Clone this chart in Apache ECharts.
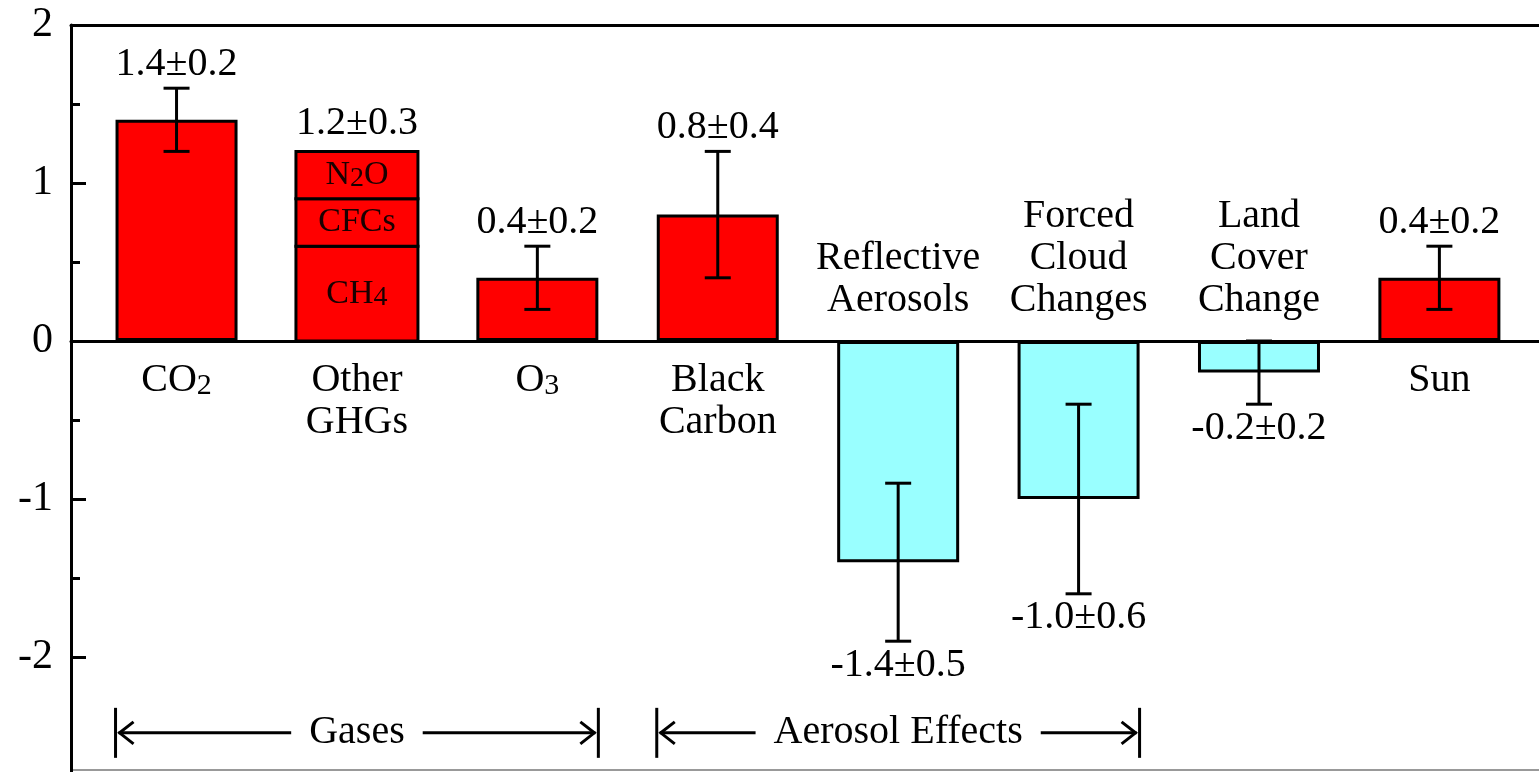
<!DOCTYPE html>
<html>
<head>
<meta charset="utf-8">
<script src="https://cdn.jsdelivr.net/npm/echarts@6/dist/echarts.min.js"></script>
<style>
html, body { margin: 0; padding: 0; background: #fff; }
#main { width: 1539px; height: 772px; }
</style>
</head>
<body>
<div id="main"></div>
<script>
// forcings, W/m2
var categories = ['CO2', 'Other\nGHGs', 'O3', 'Black\nCarbon', 'Reflective\nAerosols', 'Forced\nCloud\nChanges', 'Land\nCover\nChange', 'Sun'];
var forcing = [1.4, 1.2, 0.4, 0.8, -1.4, -1.0, -0.2, 0.4];
var uncertainty = [0.2, 0.3, 0.2, 0.4, 0.5, 0.6, 0.2, 0.2];
var hasErrorBar = [true, false, true, true, true, true, true, true];
// split of the "Other GHGs" bar
var ghgParts = ['CH4', 'CFCs', 'N2O'];
var ghgValues = [0.6, 0.3, 0.3];
// brackets under the bars
var groupNames = ['Gases', 'Aerosol Effects'];
var groupFrom = [0, 3];
var groupTo = [2, 5];
// y ticks
var majorTicks = [-2, -1, 0, 1, 2];
var minorTicks = [-1.5, -0.5, 0.5, 1.5];

var SERIF = '"Liberation Serif", "Times New Roman", serif';
var FONT = '40px ' + SERIF;
var BAR_W = 122;
var BRACKET_LEVEL = -2.48;
var red = '#ff0000', cyan = '#99ffff';
var GHG_INDEX = 1;

// "CO2" -> rich text with subscript digits
function richName(name) {
  return name.split('\n').map(function (line) {
    return line.replace(/([^\d]+)|(\d+)/g, function (m, a, d) {
      return a ? '{t|' + a + '}' : '{s|' + d + '}';
    });
  }).join('\n');
}

var measureCtx = document.createElement('canvas').getContext('2d');
measureCtx.font = FONT;

var lineStyle = { stroke: '#000', lineWidth: 3 };

var mainData = forcing.map(function (v, i) {
  return i === GHG_INDEX ? [i, '-'] : [i, v];
});

var ghgData = [];
var acc = 0;
ghgValues.forEach(function (v) {
  ghgData.push([GHG_INDEX, acc, acc + v]);
  acc += v;
});

var myChart = echarts.init(document.getElementById('main'));
myChart.setOption({
  animation: false,
  backgroundColor: '#fff',
  grid: { left: 71, top: 25, right: -20, bottom: -43, outerBoundsMode: 'none', containLabel: false },
  xAxis: [
    {
      type: 'value', min: -0.585, max: 7.663,
      axisLine: { onZero: true, lineStyle: { color: '#000', width: 3 } },
      axisTick: { show: false }, axisLabel: { show: false }, splitLine: { show: false }
    },
    {
      type: 'value', min: -0.585, max: 7.663, position: 'top',
      axisLine: { onZero: false, lineStyle: { color: '#000', width: 3 } },
      axisTick: { show: false }, axisLabel: { show: false }, splitLine: { show: false }
    }
  ],
  yAxis: [
    {
      type: 'value', min: -3, max: 2, interval: 1,
      axisLine: { show: true, onZero: false, lineStyle: { color: '#000', width: 3 } },
      axisTick: { show: true, inside: true, length: 15, customValues: majorTicks, lineStyle: { color: '#000', width: 3 } },
      axisLabel: { color: '#000', fontFamily: SERIF, fontSize: 42, margin: 18, customValues: majorTicks },
      splitLine: { show: false }
    },
    {
      type: 'value', min: -3, max: 2, interval: 1, position: 'left', offset: 0,
      axisLine: { show: false, onZero: false },
      axisTick: { show: true, inside: true, length: 9, customValues: minorTicks, lineStyle: { color: '#000', width: 3 } },
      axisLabel: { show: false },
      splitLine: { show: false }
    }
  ],
  graphic: [
    { type: 'line', shape: { x1: 71, y1: 770, x2: 1539, y2: 770 }, style: { stroke: '#999', lineWidth: 2 } }
  ],
  series: [
    {
      type: 'bar',
      name: 'forcing',
      barWidth: BAR_W,
      data: mainData,
      itemStyle: {
        borderColor: '#000', borderWidth: 3,
        color: function (p) { return p.value[1] >= 0 ? red : cyan; }
      },
      z: 2
    },
    {
      // stacked parts of the other greenhouse gases
      type: 'custom',
      name: 'ghg',
      data: ghgData,
      encode: { x: 0, y: [1, 2] },
      z: 3,
      renderItem: function (params, api) {
        var k = params.dataIndex;
        var p0 = api.coord([api.value(0), api.value(1)]);
        var p1 = api.coord([api.value(0), api.value(2)]);
        return {
          type: 'group',
          children: [
            {
              type: 'rect',
              shape: { x: p0[0] - BAR_W / 2, y: p1[1], width: BAR_W, height: p0[1] - p1[1] },
              style: { fill: red, stroke: '#000', lineWidth: 3 }
            },
            {
              type: 'text',
              style: {
                text: richName(ghgParts[k]),
                x: p0[0], y: (p0[1] + p1[1]) / 2,
                align: 'center', verticalAlign: 'middle',
                font: '34px ' + SERIF, fill: '#1a0000',
                rich: {
                  t: { fontFamily: SERIF, fontSize: 34, lineHeight: 36, fill: '#1a0000' },
                  s: { fontFamily: SERIF, fontSize: 28, lineHeight: 12, fill: '#1a0000', verticalAlign: 'bottom' }
                }
              }
            }
          ]
        };
      }
    },
    {
      // error bars and value labels
      type: 'custom',
      name: 'error',
      data: forcing.map(function (v, i) { return [i, v - uncertainty[i], v + uncertainty[i]]; }),
      encode: { x: 0, y: [1, 2] },
      z: 5,
      renderItem: function (params, api) {
        var i = params.dataIndex;
        var v = forcing[i], u = uncertainty[i];
        var x = api.coord([i, 0])[0];
        var top = api.coord([i, v + u])[1];
        var bot = api.coord([i, v - u])[1];
        var children = [];
        if (hasErrorBar[i]) {
          children.push({ type: 'line', shape: { x1: x, y1: top, x2: x, y2: bot }, style: lineStyle });
          children.push({ type: 'line', shape: { x1: x - 13, y1: top, x2: x + 13, y2: top }, style: lineStyle });
          children.push({ type: 'line', shape: { x1: x - 13, y1: bot, x2: x + 13, y2: bot }, style: lineStyle });
        }
        var end = hasErrorBar[i] ? (v >= 0 ? top : bot) : api.coord([i, v])[1];
        var gap = hasErrorBar[i] ? 4 : 8;
        children.push({
          type: 'text',
          style: {
            text: v.toFixed(1) + '±' + u.toFixed(1),
            x: x, y: v >= 0 ? end - gap : end + gap,
            align: 'center', verticalAlign: v >= 0 ? 'bottom' : 'top',
            font: FONT, fill: '#000'
          }
        });
        return { type: 'group', children: children };
      }
    },
    {
      // category names next to the zero line
      type: 'custom',
      name: 'names',
      data: categories.map(function (c, i) { return [i, 0]; }),
      encode: { x: 0, y: 1 },
      z: 5,
      renderItem: function (params, api) {
        var i = params.dataIndex;
        var pt = api.coord([i, 0]);
        var up = forcing[i] < 0;
        return {
          type: 'text',
          style: {
            text: richName(categories[i]),
            x: pt[0], y: up ? pt[1] - 20 : pt[1] + 18,
            align: 'center', verticalAlign: up ? 'bottom' : 'top',
            font: FONT, fill: '#000', lineHeight: 42,
            rich: {
              t: { fontFamily: SERIF, fontSize: 40, lineHeight: 42, fill: '#000' },
              s: { fontFamily: SERIF, fontSize: 30, lineHeight: 14, fill: '#000', verticalAlign: 'bottom' }
            }
          }
        };
      }
    },
    {
      // group brackets
      type: 'custom',
      name: 'groups',
      data: groupNames.map(function (g, k) { return [groupFrom[k], groupTo[k]]; }),
      encode: { x: [0, 1] },
      z: 5,
      renderItem: function (params, api) {
        var k = params.dataIndex;
        var x1 = api.coord([groupFrom[k], 0])[0] - BAR_W / 2;
        var x2 = api.coord([groupTo[k], 0])[0] + BAR_W / 2;
        var y = api.coord([0, BRACKET_LEVEL])[1];
        var mid = (x1 + x2) / 2;
        var tw = measureCtx.measureText(groupNames[k]).width;
        var gap = 18;
        return {
          type: 'group',
          children: [
            { type: 'line', shape: { x1: x1, y1: y - 25, x2: x1, y2: y + 25 }, style: lineStyle },
            { type: 'line', shape: { x1: x2, y1: y - 25, x2: x2, y2: y + 25 }, style: lineStyle },
            { type: 'line', shape: { x1: x1 + 3, y1: y, x2: mid - tw / 2 - gap, y2: y }, style: lineStyle },
            { type: 'line', shape: { x1: mid + tw / 2 + gap, y1: y, x2: x2 - 3, y2: y }, style: lineStyle },
            { type: 'polyline', shape: { points: [[x1 + 18, y - 11], [x1 + 4, y], [x1 + 18, y + 11]] }, style: { stroke: '#000', lineWidth: 3, fill: null } },
            { type: 'polyline', shape: { points: [[x2 - 18, y - 11], [x2 - 4, y], [x2 - 18, y + 11]] }, style: { stroke: '#000', lineWidth: 3, fill: null } },
            { type: 'text', style: { text: groupNames[k], x: mid, y: y, align: 'center', verticalAlign: 'middle', font: FONT, fill: '#000' } }
          ]
        };
      }
    }
  ]
});
</script>
</body>
</html>
